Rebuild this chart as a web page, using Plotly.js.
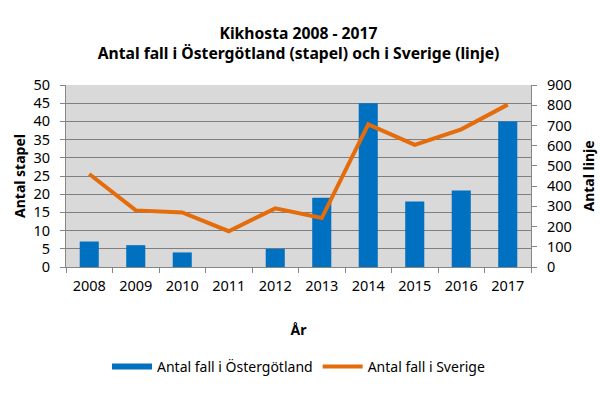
<!DOCTYPE html>
<html>
<head>
<meta charset="utf-8">
<script src="https://cdn.plot.ly/plotly-3.0.1.min.js"></script>
<style>html,body{margin:0;padding:0;background:#fff;}#chart{width:600px;height:394px;}</style>
</head>
<body>
<div id="chart"></div>
<script>
const years = ["2008","2009","2010","2011","2012","2013","2014","2015","2016","2017"];
const ostergotland = [7, 6, 4, 0, 5, 19, 45, 18, 21, 40];
const sverige = [460, 280, 270, 177, 290, 242, 705, 604, 681, 803];
const leftTicks = [0,5,10,15,20,25,30,35,40,45,50];
const rightTicks = [0,100,200,300,400,500,600,700,800,900];

const FONT = "Noto Sans, Open Sans, sans-serif";
const BLUE = "#0070c0";
const ORANGE = "#e46c0a";

const traces = [
  {
    type: "bar", x: years, y: ostergotland, name: "Antal fall i Östergötland",
    marker: {color: BLUE}, yaxis: "y", showlegend: false, legendgroup: "ost"
  },
  {
    // legend swatch for the bar series (drawn as a wide bar-like key)
    type: "scatter", mode: "lines", x: [years[0]], y: [null],
    name: "Antal fall i Östergötland", legendgroup: "ost",
    line: {color: BLUE, width: 6}, yaxis: "y", hoverinfo: "skip"
  },
  {
    type: "scatter", mode: "lines", x: years, y: sverige, name: "Antal fall i Sverige",
    line: {color: ORANGE, width: 4}, yaxis: "y2"
  }
];

const layout = {
  width: 600, height: 394,
  margin: {l: 66, r: 69, t: 84.5, b: 125.5},
  paper_bgcolor: "#ffffff",
  plot_bgcolor: "#d9d9d9",
  font: {family: FONT, size: 14, color: "#000"},
  title: {
    text: "<b>Kikhosta 2008 - 2017<br>Antal fall i Östergötland (stapel) och i Sverige (linje)</b>",
    font: {family: FONT, size: 15.7, color: "#000"},
    x: 0.5, xanchor: "center", xref: "paper",
    yref: "container", y: 0.902, yanchor: "middle"
  },
  bargap: 0.59,
  showlegend: true,
  legend: {
    orientation: "h", x: 0.5, xanchor: "center", y: -0.54, yanchor: "middle",
    font: {family: FONT, size: 14}, itemwidth: 40, traceorder: "normal",
    bgcolor: "rgba(0,0,0,0)"
  },
  xaxis: {
    type: "category", tickson: "boundaries", ticks: "outside", ticklen: 5,
    tickcolor: "#868686", showline: true, linecolor: "#868686", linewidth: 1,
    showgrid: false, tickfont: {size: 14.5}, ticklabelstandoff: 6,
    title: {text: "<b>År</b>", font: {size: 14}, standoff: 30}
  },
  yaxis: {
    range: [0, 50], tickvals: leftTicks, ticks: "outside", ticklen: 5,
    tickcolor: "#868686", showline: true, linecolor: "#868686",
    gridcolor: "#7f7f7f", gridwidth: 1, zeroline: false,
    tickfont: {size: 14.5}, ticklabelstandoff: 7,
    title: {text: "<b>Antal stapel</b>", font: {size: 14}, standoff: 4}
  },
  yaxis2: {
    range: [0, 900], tickvals: rightTicks, overlaying: "y", side: "right",
    ticks: "outside", ticklen: 5, tickcolor: "#868686", showline: true,
    linecolor: "#868686", showgrid: false, zeroline: false,
    tickfont: {size: 14.5}, ticklabelstandoff: 7,
    title: {text: "<b>Antal linje</b>", font: {size: 14}, standoff: 13}
  }
};

Plotly.newPlot("chart", traces, layout, {displayModeBar: false, staticPlot: true});
</script>
</body>
</html>
